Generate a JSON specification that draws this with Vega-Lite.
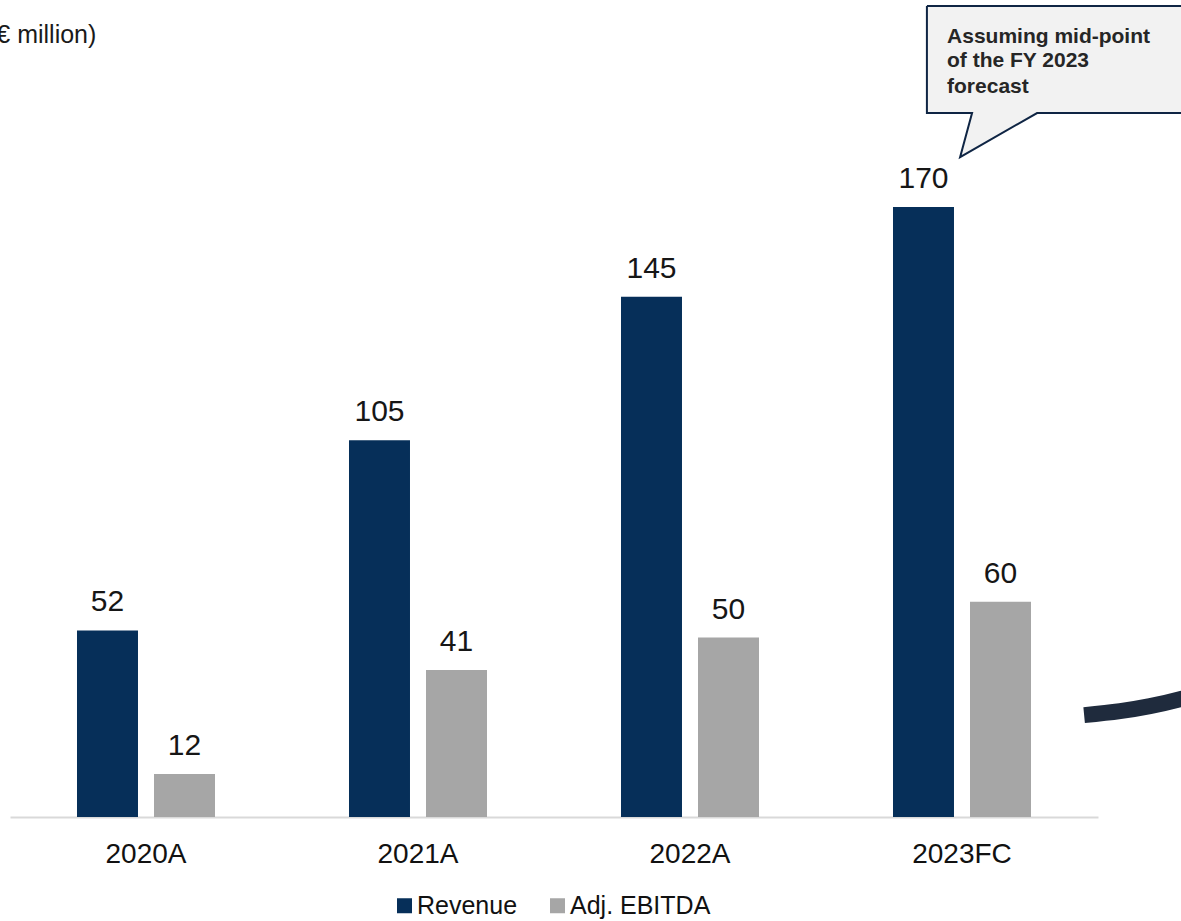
{
  "$schema": "https://vega.github.io/schema/vega-lite/v6.json",
  "width": 1088,
  "height": 817,
  "autosize": "none",
  "padding": {"left": 10, "top": 0, "right": 83, "bottom": 104},
  "background": "#ffffff",
  "config": {
    "view": {"stroke": null},
    "font": "Liberation Sans"
  },
  "datasets": {
    "fin": [
      {"year": "2020A", "metric": "Revenue", "value": 52},
      {"year": "2020A", "metric": "Adj. EBITDA", "value": 12},
      {"year": "2021A", "metric": "Revenue", "value": 105},
      {"year": "2021A", "metric": "Adj. EBITDA", "value": 41},
      {"year": "2022A", "metric": "Revenue", "value": 145},
      {"year": "2022A", "metric": "Adj. EBITDA", "value": 50},
      {"year": "2023FC", "metric": "Revenue", "value": 170},
      {"year": "2023FC", "metric": "Adj. EBITDA", "value": 60}
    ],
    "bubble": [
      {"i": 0, "u": 3.371, "v": 226.0},
      {"i": 1, "u": 4.338, "v": 226.0},
      {"i": 2, "u": 4.338, "v": 196.2},
      {"i": 3, "u": 3.776, "v": 196.2},
      {"i": 4, "u": 3.493, "v": 183.9},
      {"i": 5, "u": 3.537, "v": 196.2},
      {"i": 6, "u": 3.371, "v": 196.2},
      {"i": 7, "u": 3.371, "v": 226.0}
    ],
    "bubbleText": [
      {"u": 3.445, "v": 215.7, "t": "Assuming mid-point"},
      {"u": 3.445, "v": 209.0, "t": "of the FY 2023"},
      {"u": 3.445, "v": 201.8, "t": "forecast"}
    ],
    "unit": [
      {"u": -0.081, "v": 215.7, "t": "(€ million)"}
    ],
    "swoosh": [
      {"i": 0, "u": 3.949, "v": 28.4},
      {"i": 1, "u": 4.081, "v": 29.5},
      {"i": 2, "u": 4.191, "v": 30.9},
      {"i": 3, "u": 4.305, "v": 32.9},
      {"i": 4, "u": 4.412, "v": 35.4}
    ]
  },
  "layer": [
    {
      "data": {"name": "fin"},
      "encoding": {
        "x": {
          "field": "year",
          "type": "nominal",
          "sort": ["2020A", "2021A", "2022A", "2023FC"],
          "scale": {"paddingInner": 0, "paddingOuter": 0},
          "axis": {
            "title": null,
            "labelAngle": 0,
            "ticks": false,
            "tickSize": 0,
            "grid": false,
            "domain": true,
            "domainColor": "#d9d9d9",
            "domainWidth": 2,
            "labelFontSize": 28,
            "labelColor": "#111111",
            "labelBaseline": "alphabetic",
            "labelPadding": 45
          }
        },
        "xOffset": {
          "field": "metric",
          "type": "nominal",
          "sort": ["Revenue", "Adj. EBITDA"],
          "scale": {"paddingInner": 0.208, "paddingOuter": 0.87}
        },
        "y": {
          "field": "value",
          "type": "quantitative",
          "scale": {"domain": [0, 227.7], "nice": false, "zero": true},
          "axis": null
        }
      },
      "layer": [
        {
          "mark": {"type": "bar"},
          "encoding": {
            "color": {
              "field": "metric",
              "type": "nominal",
              "sort": ["Revenue", "Adj. EBITDA"],
              "scale": {"domain": ["Revenue", "Adj. EBITDA"], "range": ["#062f59", "#a6a6a6"]},
              "legend": {
                "title": null,
                "orient": "none",
                "legendX": 382,
                "legendY": 893,
                "direction": "horizontal",
                "symbolType": "square",
                "symbolSize": 225,
                "symbolStrokeWidth": 0,
                "labelFontSize": 25,
                "labelColor": "#111111",
                "labelOffset": 0,
                "columnPadding": 27,
                "padding": 0
              }
            }
          }
        },
        {
          "mark": {"type": "text", "baseline": "alphabetic", "dy": -19, "fontSize": 30, "color": "#161616"},
          "encoding": {"text": {"field": "value", "type": "quantitative"}}
        }
      ]
    },
    {
      "data": {"name": "swoosh"},
      "mark": {"type": "line", "interpolate": "monotone", "strokeWidth": 16, "strokeCap": "butt", "color": "#1f2b3d"},
      "encoding": {
        "x": {"field": "u", "type": "quantitative", "scale": {"domain": [0, 4], "nice": false, "zero": false}, "axis": null},
        "y": {"field": "v", "type": "quantitative", "scale": {"domain": [0, 227.7], "nice": false, "zero": true}, "axis": null},
        "order": {"field": "i"}
      }
    },
    {
      "data": {"name": "bubble"},
      "mark": {"type": "line", "fill": "#f2f2f2", "stroke": "#0f2544", "strokeWidth": 2, "strokeJoin": "miter"},
      "encoding": {
        "x": {"field": "u", "type": "quantitative", "scale": {"domain": [0, 4], "nice": false, "zero": false}, "axis": null},
        "y": {"field": "v", "type": "quantitative", "scale": {"domain": [0, 227.7], "nice": false, "zero": true}, "axis": null},
        "order": {"field": "i"}
      }
    },
    {
      "data": {"name": "bubbleText"},
      "mark": {"type": "text", "align": "left", "baseline": "alphabetic", "fontSize": 21, "fontWeight": "bold", "color": "#262626"},
      "encoding": {
        "x": {"field": "u", "type": "quantitative", "scale": {"domain": [0, 4], "nice": false, "zero": false}, "axis": null},
        "y": {"field": "v", "type": "quantitative", "scale": {"domain": [0, 227.7], "nice": false, "zero": true}, "axis": null},
        "text": {"field": "t"}
      }
    },
    {
      "data": {"name": "unit"},
      "mark": {"type": "text", "align": "left", "baseline": "alphabetic", "fontSize": 25, "color": "#1a1a1a"},
      "encoding": {
        "x": {"field": "u", "type": "quantitative", "scale": {"domain": [0, 4], "nice": false, "zero": false}, "axis": null},
        "y": {"field": "v", "type": "quantitative", "scale": {"domain": [0, 227.7], "nice": false, "zero": true}, "axis": null},
        "text": {"field": "t"}
      }
    }
  ],
  "resolve": {"scale": {"x": "independent"}}
}
